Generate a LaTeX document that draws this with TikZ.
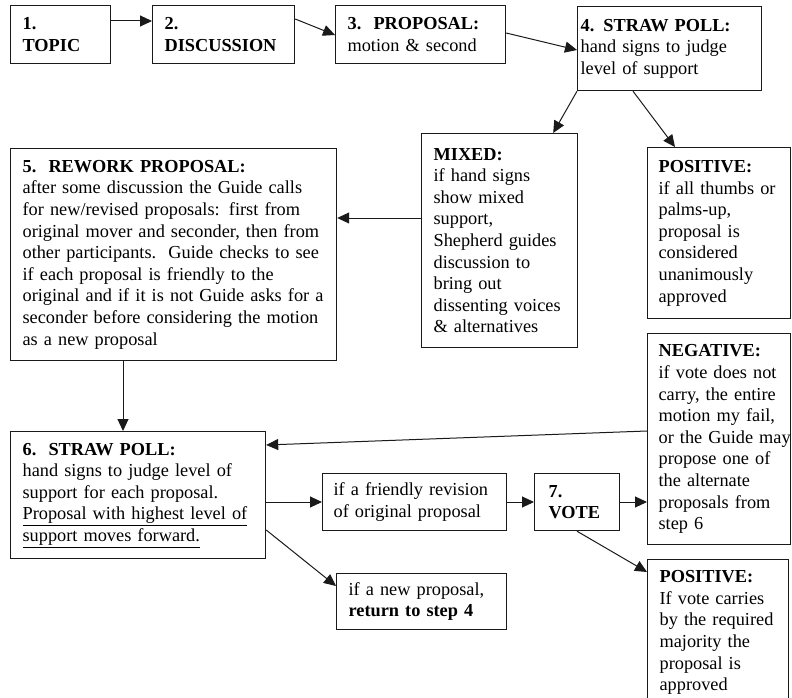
\documentclass[tikz,border=0pt]{standalone}
\usepackage{fontspec}
\setmainfont{Liberation Serif}
\usetikzlibrary{arrows.meta}
\definecolor{ink}{HTML}{1A1A1A}
\tikzset{
  box/.style={draw=ink, line width=1.2pt, anchor=north west, align=left,
              inner xsep=12pt, inner ysep=8pt, font=\fontsize{18.3}{21.6}\selectfont},
  flow/.style={-{Triangle[length=12pt, width=11pt]}, line width=1pt, ink},
}
\begin{document}
\begin{tikzpicture}[x=1pt, y=-1pt]
        \clip (0,0) rectangle (792,698);
        % top row
        \node[box, text width=76pt, minimum height=58pt] (topic) at (10,5) {\textbf{1.}\\\textbf{TOPIC}};
        \node[box, text width=118pt, minimum height=58pt] (disc) at (152,5) {\textbf{2.}\\\textbf{DISCUSSION}};
        \node[box, text width=146pt, minimum height=58pt] (prop) at (335,5) {\textbf{3.~~PROPOSAL:}\\motion \& second};
        \node[box, inner xsep=3pt, text width=178pt, minimum height=84pt] (pollA) at (577,6)
          {\textbf{4. STRAW POLL:}\\hand signs to judge\\level of support};
        % outcomes of the first poll
        \node[box, text width=132pt, minimum height=214pt] (mixed) at (421,133)
          {\textbf{MIXED:}\\if hand signs\\show mixed\\support,\\Shepherd guides\\discussion to\\bring out\\\mbox{dissenting voices}\\\& alternatives};
        \node[box, inner xsep=11pt, text width=121pt, minimum height=171pt] (posA) at (647,147)
          {\textbf{POSITIVE:}\\\mbox{if all thumbs or}\\palms-up,\\proposal is\\considered\\unanimously\\approved};
        \node[box, text width=302pt, minimum height=212pt] (rework) at (10,148)
          {\textbf{5.~~REWORK PROPOSAL:}\\after some discussion the Guide calls\\for new/revised proposals: first from\\\mbox{original mover and seconder, then from}\\\mbox{other participants.~~Guide checks to see}\\if each proposal is friendly to the\\\mbox{original and if it is not Guide asks for a}\\\mbox{seconder before considering the motion}\\as a new proposal};
        % second poll and vote
        \node[box, text width=231pt, minimum height=127pt] (pollB) at (10,431)
          {\textbf{6.~~STRAW POLL:}\\hand signs to judge level of\\support for each proposal.\\\underline{Proposal with highest level of}\\\underline{support moves forward.}};
        \node[box, inner xsep=11pt, text width=121pt, minimum height=211pt] (neg) at (647,333)
          {\textbf{NEGATIVE:}\\\mbox{if vote does not}\\\mbox{carry, the entire}\\motion my fail,\\\mbox{or the Guide may}\\propose one of\\the alternate\\proposals from\\step 6};
        \node[box, inner xsep=11pt, text width=162pt, minimum height=57pt] (friendly) at (322,473)
          {if a friendly revision\\of original proposal};
        \node[box, inner xsep=14pt, text width=57pt, minimum height=57pt] (vote) at (534,473) {\textbf{7.}\\\textbf{VOTE}};
        \node[box, text width=146pt, minimum height=56pt] (newprop) at (336,573)
          {if a new proposal,\\\textbf{return to step 4}};
        \node[box, text width=117pt, minimum height=146pt] (posB) at (647,559)
          {\textbf{POSITIVE:}\\If vote carries\\\mbox{by the required}\\majority the\\proposal is\\approved};
        % connectors
        \draw[flow] ([yshift=-16pt]topic.north east) -- ([yshift=-16pt]disc.north west);
        \draw[flow] ([yshift=-14pt]disc.north east) -- ([yshift=-30pt]prop.north west);
        \draw[flow] ([yshift=-28pt]prop.north east) -- ([yshift=-44pt]pollA.north west);
        \draw[flow] (pollA.south west) -- ([xshift=-25pt]mixed.north east);
        \draw[flow] ([xshift=56pt]pollA.south west) -- ([xshift=28pt]posA.north west);
        \draw[flow] ([yshift=-85pt]mixed.north west) -- ([yshift=-70pt]rework.north east);
        \draw[flow] ([xshift=113pt]rework.south west) -- ([xshift=113pt]pollB.north west);
        \draw[flow] ([yshift=-98pt]neg.north west) -- ([yshift=-14pt]pollB.north east);
        \draw[flow] ([yshift=-71pt]pollB.north east) -- ([yshift=-29pt]friendly.north west);
        \draw[flow] ([yshift=-99pt]pollB.north east) -- ([yshift=-13pt]newprop.north west);
        \draw[flow] ([yshift=-29pt]friendly.north east) -- ([yshift=-29pt]vote.north west);
        \draw[flow] ([yshift=-29pt]vote.north east) -- ([yshift=-169pt]neg.north west);
        \draw[flow] ([xshift=43pt]vote.south west) -- ([yshift=-13pt]posB.north west);
      \end{tikzpicture}
\end{document}
